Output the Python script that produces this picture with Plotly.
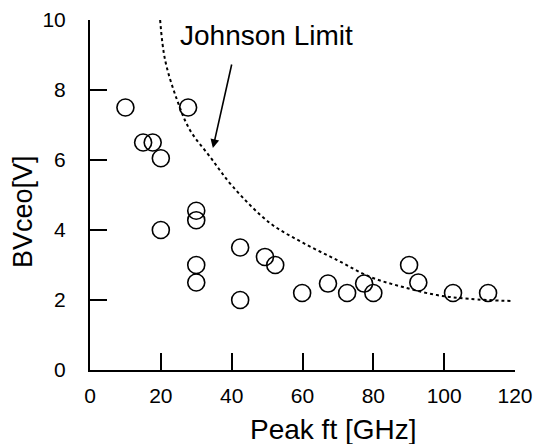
import plotly.graph_objects as go

# Measured devices
peak_ft = [10, 15, 17.7, 20, 20, 27.7, 30, 30, 30, 30, 42.4, 42.4, 49.4, 52.3,
           59.9, 67.2, 72.6, 77.4, 80, 90.1, 92.7, 102.5, 112.4]
bvceo = [7.5, 6.5, 6.5, 6.05, 4.0, 7.5, 4.55, 4.28, 3.0, 2.5, 3.5, 2.0, 3.23, 3.0,
         2.2, 2.47, 2.2, 2.47, 2.2, 3.0, 2.5, 2.2, 2.2]

# Johnson limit curve
jl_x = [19.8, 21.2, 24.6, 28.2, 33.9, 40.4, 50.8, 60.2, 69.8, 79.1, 88.4, 98.0, 107.3, 119.5]
jl_y = [10.0, 8.86, 7.71, 6.86, 6.09, 5.23, 4.2, 3.63, 3.14, 2.66, 2.37, 2.14, 2.03, 1.97]

x_ticks = [0, 20, 40, 60, 80, 100, 120]
y_ticks = [0, 2, 4, 6, 8, 10]

FONT = "Liberation Sans, Arial, sans-serif"

fig = go.Figure()
fig.add_trace(go.Scatter(x=jl_x, y=jl_y, mode="lines",
                         line=dict(color="black", width=2, dash="dot", shape="spline"),
                         hoverinfo="skip", showlegend=False, cliponaxis=False))
fig.add_trace(go.Scatter(x=peak_ft, y=bvceo, mode="markers",
                         marker=dict(symbol="circle-open", size=17, color="black",
                                     line=dict(width=1.6, color="black")),
                         showlegend=False))

fig.add_annotation(x=49.7, y=9.55, xref="x", yref="y", text="Johnson Limit",
                   showarrow=False, font=dict(family=FONT, size=28, color="black"),
                   xanchor="center", yanchor="middle")
fig.add_annotation(x=34.7, y=6.34, ax=40.1, ay=8.77, xref="x", yref="y",
                   axref="x", ayref="y", text="", showarrow=True,
                   arrowhead=2, arrowsize=1.1, arrowwidth=1.6, arrowcolor="black")

fig.add_annotation(x=0.574, y=-0.169, xref="paper", yref="paper", text="Peak ft [GHz]",
                   showarrow=False, font=dict(family=FONT, size=28, color="black"),
                   xanchor="center", yanchor="middle")
fig.add_annotation(x=-0.158, y=0.454, xref="paper", yref="paper", text="BVceo[V]",
                   showarrow=False, textangle=-90,
                   font=dict(family=FONT, size=27, color="black"),
                   xanchor="center", yanchor="middle")

fig.update_xaxes(range=[0, 120], tickvals=x_ticks, ticks="inside", ticklen=17,
                 tickwidth=1.6, tickcolor="black", showline=True, linecolor="black",
                 linewidth=2, showgrid=False, zeroline=False, automargin=False,
                 tickfont=dict(family=FONT, size=21, color="black"),
                 ticklabelstandoff=6)
fig.update_yaxes(range=[0, 10], tickvals=y_ticks, ticks="inside", ticklen=17,
                 tickwidth=1.6, tickcolor="black", showline=True, linecolor="black",
                 linewidth=2, showgrid=False, zeroline=False, automargin=False,
                 tickfont=dict(family=FONT, size=21, color="black"),
                 ticklabelstandoff=18)

fig.update_layout(width=535, height=444, plot_bgcolor="white", paper_bgcolor="white",
                  margin=dict(l=90, r=20, t=20, b=74), showlegend=False)

fig.write_html("out.html", config={"displayModeBar": False},
               post_script="document.body.style.margin='0';document.body.style.overflow='hidden';")
